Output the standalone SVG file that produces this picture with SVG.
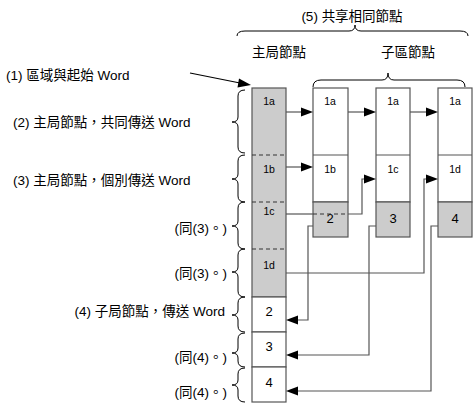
<svg xmlns="http://www.w3.org/2000/svg" width="475" height="404" viewBox="0 0 475 404">
<defs>
<style>
text{font-family:"Liberation Sans","Noto Sans CJK TC",sans-serif;fill:#000;}
.lbl{font-size:13.5px;}
.cell{font-size:10.5px;text-anchor:middle;}
.num{font-size:13px;text-anchor:middle;}
.box{stroke:#555;stroke-width:1.2;}
.g{fill:#cccccc;}
.w{fill:#fff;}
.dash{stroke:#333;stroke-width:1;stroke-dasharray:4,3;fill:none;}
.conn{stroke:#555;stroke-width:1.2;fill:none;}
.brace{stroke:#000;stroke-width:1;fill:none;}
.head{fill:#000;stroke:none;}
</style>
<path id="hr" class="head" d="M0,0 L-12,-4.5 L-12,4.5 Z"/>
<path id="hl" class="head" d="M0,0 L12,-4.5 L12,4.5 Z"/>
</defs>

<g id="titles">
<text class="lbl" x="352" y="21" text-anchor="middle">(5)  共享相同節點</text>
<text class="lbl" x="279" y="57" text-anchor="middle">主局節點</text>
<text class="lbl" x="408" y="57" text-anchor="middle">子區節點</text>
<path class="brace" d="M237 36 Q237 31 245 31 L349 31 Q355 31 355 25 Q355 31 361 31 L460 31 Q468 31 468 36"/>
<path class="brace" d="M313 87 Q313 80 321 80 L382 80 Q388 80 388 73 Q388 80 394 80 L457 80 Q465 80 465 87"/>
</g>

<g id="left-labels">
<text class="lbl" x="6" y="80">(1)  區域與起始 Word</text>
<text class="lbl" x="13" y="127">(2)  主局節點，共同傳送 Word</text>
<text class="lbl" x="13" y="185">(3)  主局節點，個別傳送 Word</text>
<text class="lbl" x="227" y="233" text-anchor="end">(同(3)。)</text>
<text class="lbl" x="227" y="278" text-anchor="end">(同(3)。)</text>
<text class="lbl" x="225" y="316" text-anchor="end">(4)  子局節點，傳送 Word</text>
<text class="lbl" x="227" y="362" text-anchor="end">(同(4)。)</text>
<text class="lbl" x="227" y="397" text-anchor="end">(同(4)。)</text>
<path class="brace" d="M245 90 Q238 90 238 96 L238 117 Q238 122 232 122 Q238 122 238 127 L238 147 Q238 153 245 153"/>
<path class="brace" d="M245 155 Q238 155 238 161 L238 174 Q238 179 232 179 Q238 179 238 184 L238 196 Q238 202 245 202"/>
<path class="brace" d="M245 202 Q238 202 238 208 L238 221 Q238 226 232 226 Q238 226 238 231 L238 243 Q238 249 245 249"/>
<path class="brace" d="M245 249 Q238 249 238 255 L238 267 Q238 272 232 272 Q238 272 238 277 L238 291 Q238 297 245 297"/>
<path class="brace" d="M245 297 Q238 297 238 303 L238 310 Q238 315 232 315 Q238 315 238 320 L238 326 Q238 332 245 332"/>
<path class="brace" d="M245 333 Q238 333 238 339 L238 348 Q238 353 232 353 Q238 353 238 358 L238 361 Q238 367 245 367"/>
<path class="brace" d="M245 368 Q238 368 238 374 L238 380 Q238 385 232 385 Q238 385 238 390 L238 396 Q238 402 245 402"/>
</g>

<g id="main-column">
<rect class="box g" x="252" y="88" width="34" height="209"/>
<line class="dash" x1="252" y1="155" x2="286" y2="155"/>
<line class="dash" x1="252" y1="202" x2="286" y2="202"/>
<line class="dash" x1="252" y1="249" x2="286" y2="249"/>
<text class="cell" x="269" y="105">1a</text>
<text class="cell" x="269" y="173">1b</text>
<text class="cell" x="269" y="215">1c</text>
<text class="cell" x="269" y="269">1d</text>
<rect class="box w" x="252" y="297" width="34" height="35"/>
<rect class="box w" x="252" y="332" width="34" height="35"/>
<rect class="box w" x="252" y="367" width="34" height="35"/>
<text class="num" x="269" y="316">2</text>
<text class="num" x="269" y="351">3</text>
<text class="num" x="269" y="387">4</text>
</g>

<g id="sub1">
<rect class="box w" x="313" y="88" width="35" height="114"/>
<line class="box" x1="313" y1="155" x2="348" y2="155"/>
<rect class="box g" x="313" y="202" width="35" height="35"/>
<text class="cell" x="330" y="105">1a</text>
<text class="cell" x="330" y="173">1b</text>
<text class="num" x="330" y="223">2</text>
</g>
<g id="sub2">
<rect class="box w" x="376" y="88" width="34" height="114"/>
<line class="box" x1="376" y1="155" x2="410" y2="155"/>
<rect class="box g" x="376" y="202" width="34" height="35"/>
<text class="cell" x="393" y="105">1a</text>
<text class="cell" x="393" y="173">1c</text>
<text class="num" x="393" y="223">3</text>
</g>
<g id="sub3">
<rect class="box w" x="438" y="88" width="34" height="114"/>
<line class="box" x1="438" y1="155" x2="472" y2="155"/>
<rect class="box g" x="438" y="202" width="34" height="35"/>
<text class="cell" x="455" y="105">1a</text>
<text class="cell" x="455" y="173">1d</text>
<text class="num" x="455" y="223">4</text>
</g>

<g id="connectors">
<path class="conn" d="M190 73 L240 83" style="stroke:#000"/>
<path class="head" d="M251 85 L239 78.5 L237.5 87.5 Z"/>
<path class="conn" d="M286 112 L302 112"/>
<use href="#hr" x="313" y="112"/>
<path class="conn" d="M348 112 L365 112"/>
<use href="#hr" x="376" y="112"/>
<path class="conn" d="M410 112 L427 112"/>
<use href="#hr" x="438" y="112"/>
<path class="conn" d="M286 167 L302 167"/>
<use href="#hr" x="313" y="167"/>
<path class="conn" d="M286 214 L313 214"/>
<path class="dash" d="M313 214 L348 214"/>
<path class="conn" d="M348 214 L362 214 L362 179 L365 179"/>
<use href="#hr" x="376" y="179"/>
<path class="conn" d="M286 273 L424 273 L424 179 L427 179"/>
<use href="#hr" x="438" y="179"/>
<path class="conn" d="M313 226 L308 226 L308 320 L297 320"/>
<use href="#hl" x="286" y="320"/>
<path class="conn" d="M376 226 L369 226 L369 355 L297 355"/>
<use href="#hl" x="286" y="355"/>
<path class="conn" d="M438 226 L431 226 L431 391 L297 391"/>
<use href="#hl" x="286" y="391"/>
</g>
</svg>
